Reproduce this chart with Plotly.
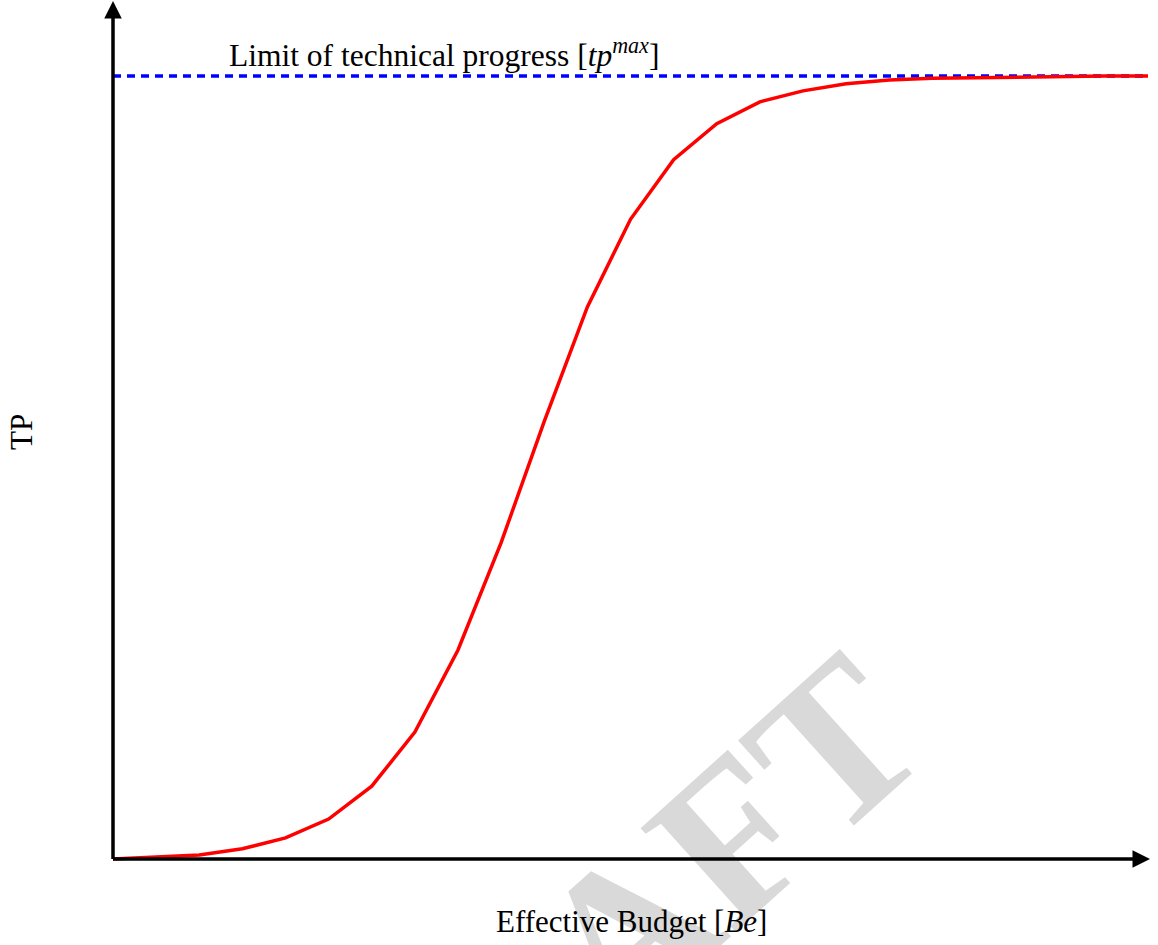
import plotly.graph_objects as go

# ---- data ----
budget = list(range(25))
tp = [0.0, 0.003, 0.005, 0.013, 0.027, 0.051, 0.093, 0.162, 0.267, 0.404,
      0.559, 0.705, 0.817, 0.893, 0.939, 0.967, 0.981, 0.990, 0.995, 0.997,
      0.998, 0.999, 0.9995, 1.0, 1.0]
tp_max = 1.0
limit_x = [0, 24]
limit_label = "Limit of technical progress [<i>tp</i><sup><i>max</i></sup>]"
x_title = "Effective Budget [<i>Be</i>]"
y_title = "TP"
watermark = "DRAFT"

# ---- layout geometry (pixel -> data mapping) ----
W, H = 1158, 945
px_x0, px_x24 = 113, 1148
sx = (px_x24 - px_x0) / 24.0
xmin = -px_x0 / sx
xmax = xmin + W / sx
px_y0, px_y1 = 859, 76
sy = (px_y0 - px_y1) / 1.0
ymax = px_y0 / sy
ymin = -(H - px_y0) / sy


def X(px):
    return xmin + px / sx


def Y(py):
    return ymax - py / sy


fig = go.Figure()
fig.add_trace(go.Scatter(x=limit_x, y=[tp_max, tp_max], mode="lines",
                         line=dict(color="#0000ff", width=3.5, dash="8px,6px"),
                         hoverinfo="skip", showlegend=False))
fig.add_trace(go.Scatter(x=budget, y=tp, mode="lines",
                         line=dict(color="#ff0000", width=3.5),
                         hoverinfo="skip", showlegend=False))

serif = "Liberation Serif, Times New Roman, serif"
ann = []
# watermark first (drawn underneath the axis arrows)
ann.append(dict(x=X(612), y=Y(945), xref="x", yref="y",
                text="<b>" + watermark + "</b>",
                showarrow=False, textangle=-42,
                font=dict(family=serif, size=215, color="#d9d9d9")))
# axes with arrows
ann.append(dict(x=X(1150), y=0, ax=X(111.5), ay=0, xref="x", yref="y",
                axref="x", ayref="y", text="", showarrow=True,
                arrowhead=2, arrowsize=1.0, arrowwidth=3.5, arrowcolor="black",
                standoff=0, startstandoff=0))
ann.append(dict(x=0, y=Y(1), ax=0, ay=Y(860.5), xref="x", yref="y",
                axref="x", ayref="y", text="", showarrow=True,
                arrowhead=2, arrowsize=1.0, arrowwidth=3.5, arrowcolor="black",
                standoff=0, startstandoff=0))
# labels
ann.append(dict(x=X(444), y=Y(53), xref="x", yref="y", text=limit_label,
                showarrow=False, font=dict(family=serif, size=31.5, color="black")))
ann.append(dict(x=X(631), y=Y(921), xref="x", yref="y", text=x_title,
                showarrow=False, font=dict(family=serif, size=31, color="black")))
ann.append(dict(x=X(21), y=Y(432), xref="x", yref="y", text=y_title,
                showarrow=False, textangle=-90,
                font=dict(family=serif, size=31, color="black")))

fig.update_layout(
    width=W, height=H,
    margin=dict(l=0, r=0, t=0, b=0),
    paper_bgcolor="white", plot_bgcolor="white",
    xaxis=dict(range=[xmin, xmax], visible=False, fixedrange=True),
    yaxis=dict(range=[ymin, ymax], visible=False, fixedrange=True),
    annotations=ann,
    showlegend=False,
)

fig.write_html("out.html", config={"staticPlot": True},
               post_script="document.body.style.margin='0';"
                           "document.body.style.overflow='hidden';")
